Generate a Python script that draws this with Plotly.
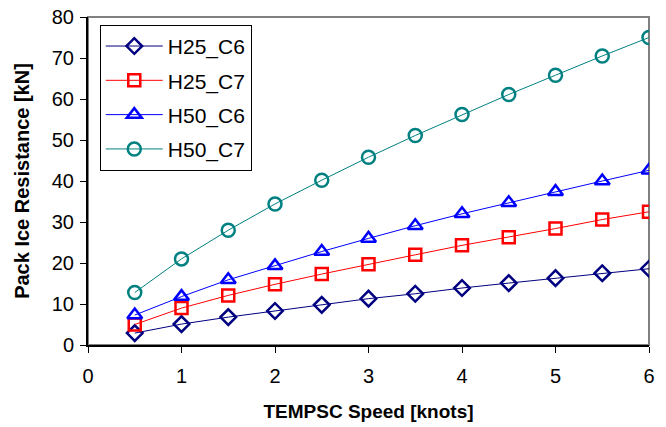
import plotly.graph_objects as go

speed = [0.5, 1, 1.5, 2, 2.5, 3, 3.5, 4, 4.5, 5, 5.5, 6]
h25_c6 = [2.9, 5.1, 6.8, 8.3, 9.8, 11.3, 12.5, 13.9, 15.1, 16.3, 17.5, 18.6]
h25_c7 = [5.0, 9.0, 12.1, 14.8, 17.3, 19.7, 22.0, 24.3, 26.3, 28.4, 30.6, 32.5]
h50_c6 = [7.3, 11.8, 15.9, 19.3, 22.8, 26.0, 29.1, 32.0, 34.7, 37.4, 40.0, 42.6]
h50_c7 = [12.8, 21.0, 28.0, 34.4, 40.2, 45.8, 51.1, 56.2, 61.1, 65.8, 70.5, 75.0]

series = [
    ("H25_C6", h25_c6, "#000080", "diamond-open", 12),
    ("H25_C7", h25_c7, "#FF0000", "square-open", 12),
    ("H50_C6", h50_c6, "#0000FF", "triangle-up-open", 13),
    ("H50_C7", h50_c7, "#008080", "circle-open", 13),
]

fig = go.Figure()
for i, (name, vals, col, sym, sz) in enumerate(series):
    fig.add_trace(go.Scatter(
        x=speed, y=vals, name=name, mode="lines+markers",
        legendgroup=f"g{i}",
        line=dict(color=col, width=1),
        marker=dict(symbol=sym, size=sz, color=col, line=dict(color=col, width=2.5)),
    ))

fig.add_shape(type="rect", xref="paper", yref="paper", x0=0, y0=0, x1=1, y1=1,
              line=dict(color="#808080", width=2), layer="below")

fig.update_layout(
    width=666, height=427,
    margin=dict(l=88, r=17, t=17, b=82),
    paper_bgcolor="white", plot_bgcolor="white",
    font=dict(family="Liberation Sans, Arial, sans-serif", size=20, color="black"),
    showlegend=True,
    legend=dict(x=0.021, y=0.976, xanchor="left", yanchor="top",
                bgcolor="white", bordercolor="black", borderwidth=1,
                font=dict(size=21), tracegroupgap=4, itemwidth=57),
    xaxis=dict(range=[0, 6], dtick=1, ticks="outside", ticklen=6, tickcolor="black",
               showline=True, linecolor="black", linewidth=2, showgrid=False, zeroline=False,
               tickfont=dict(size=20), ticklabelstandoff=6, ticklabeloverflow="allow",
               automargin=False,
               title=dict(text="<b>TEMPSC Speed [knots]</b>", font=dict(size=19), standoff=19)),
    yaxis=dict(range=[0, 80], dtick=10, ticks="outside", ticklen=6, tickcolor="black",
               showline=True, linecolor="black", linewidth=2, showgrid=False, zeroline=False,
               tickfont=dict(size=20), ticklabelstandoff=2, ticklabeloverflow="allow",
               automargin=False,
               title=dict(text="<b>Pack Ice Resistance [kN]</b>", font=dict(size=20), standoff=17)),
)

# remove the default page margin so the 666x427 figure fills the window exactly
fig.write_html("out.html", config={"displayModeBar": False},
               post_script="document.body.style.margin='0';")
